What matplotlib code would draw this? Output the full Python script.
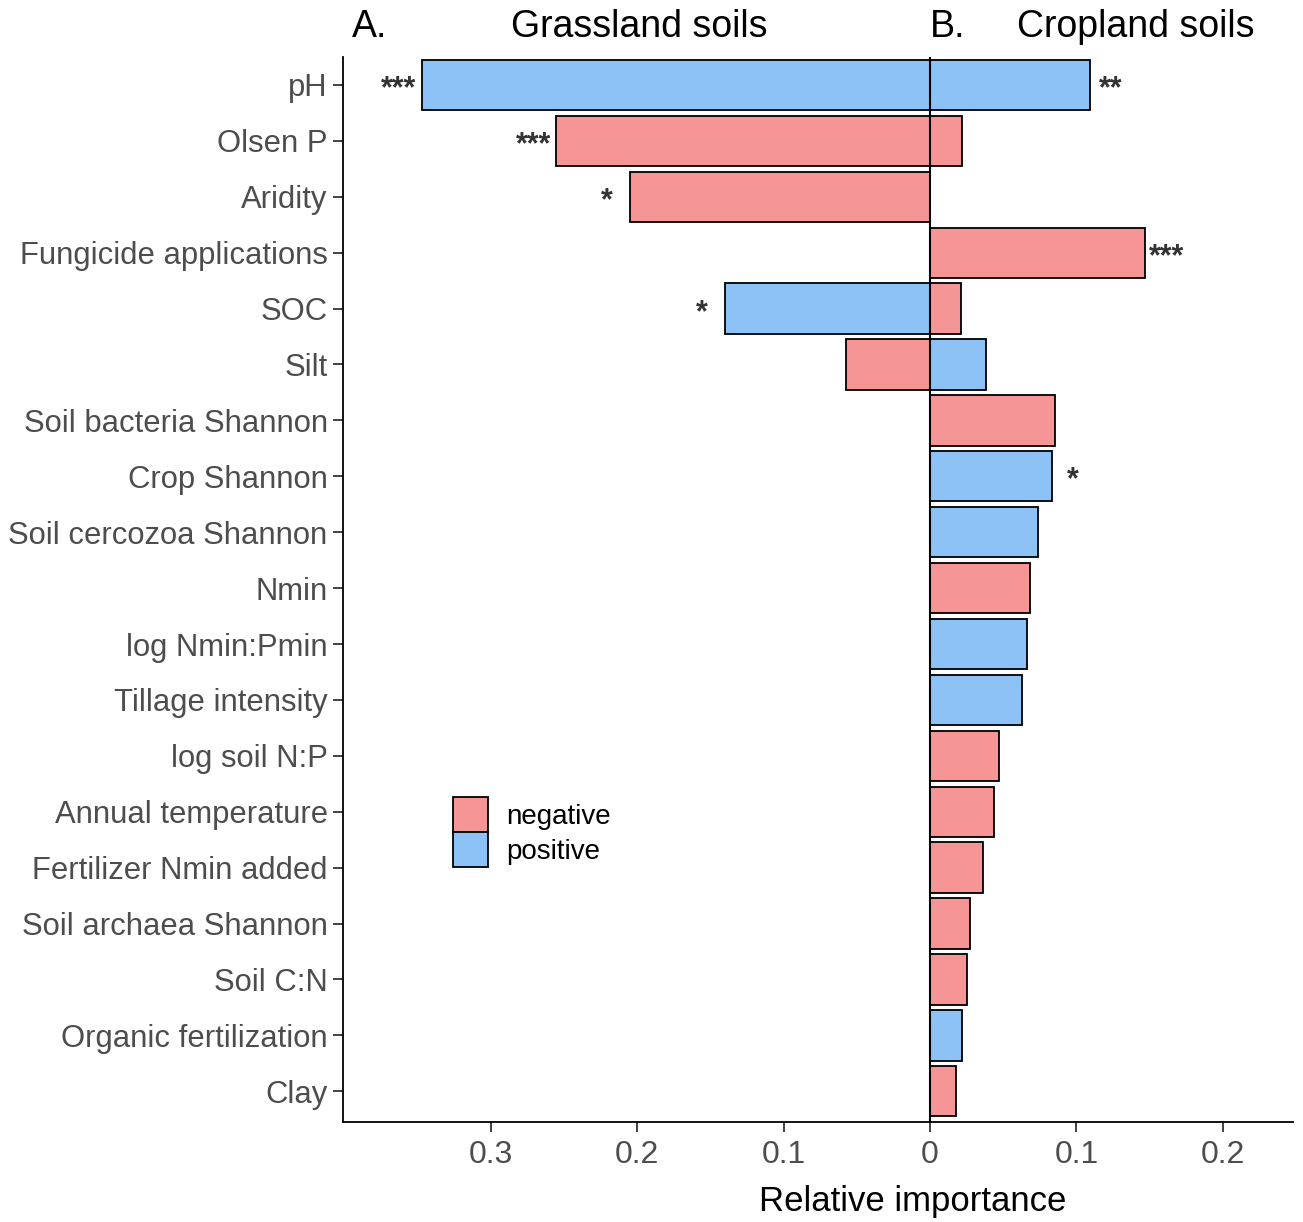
import numpy as np
import matplotlib.pyplot as plt
from matplotlib.patches import Patch

plt.rcParams["font.family"] = ["Liberation Sans", "DejaVu Sans"]

# Predictors, top to bottom
predictors = [
    "pH", "Olsen P", "Aridity", "Fungicide applications", "SOC", "Silt",
    "Soil bacteria Shannon", "Crop Shannon", "Soil cercozoa Shannon", "Nmin",
    "log Nmin:Pmin", "Tillage intensity", "log soil N:P", "Annual temperature",
    "Fertilizer Nmin added", "Soil archaea Shannon", "Soil C:N",
    "Organic fertilization", "Clay",
]

# Relative importance (0 = predictor not in model)
grass_imp = [0.347, 0.255, 0.205, 0, 0.140, 0.057, 0, 0, 0, 0, 0, 0, 0, 0, 0, 0, 0, 0, 0]
crop_imp = [0.109, 0.022, 0, 0.147, 0.021, 0.038, 0.085, 0.083, 0.074, 0.068,
            0.066, 0.063, 0.047, 0.044, 0.036, 0.027, 0.025, 0.022, 0.018]

# Direction of effect
grass_sign = ["positive", "negative", "negative", "", "positive", "negative",
              "", "", "", "", "", "", "", "", "", "", "", "", ""]
crop_sign = ["positive", "negative", "", "negative", "negative", "positive",
             "negative", "positive", "positive", "negative", "positive", "positive",
             "negative", "negative", "negative", "negative", "negative", "positive",
             "negative"]

# Significance labels
grass_sig = ["***", "***", "*", "", "*", "", "", "", "", "", "", "", "", "", "", "", "", "", ""]
crop_sig = ["**", "", "", "***", "", "", "", "*", "", "", "", "", "", "", "", "", "", "", ""]

colors = {"negative": "#F59596", "positive": "#8CC2F5"}

W, H = 1303, 1222
fig = plt.figure(figsize=(W / 100, H / 100), dpi=100)
ax = fig.add_axes([343 / W, 1 - 1122 / H, 950 / W, 1065 / H])

y = np.arange(len(predictors))[::-1]

for yi, g, c, gs, cs, gsig, csig in zip(y, grass_imp, crop_imp, grass_sign,
                                         crop_sign, grass_sig, crop_sig):
    if g > 0:
        ax.barh(yi, -g, height=0.9, color=colors[gs], edgecolor="black", linewidth=1.3)
    if c > 0:
        ax.barh(yi, c, height=0.9, color=colors[cs], edgecolor="black", linewidth=1.3)
    if gsig:
        ax.text(-g - 0.0155, yi - 0.22, gsig, ha="center", va="baseline",
                fontsize=22, fontweight="bold", color="#333333")
    if csig:
        ax.text(c + 0.0145, yi - 0.22, csig, ha="center", va="baseline",
                fontsize=22, fontweight="bold", color="#333333")

ax.axvline(0, color="black", linewidth=1.5)

ax.set_xlim(-0.4007, 0.2478)
ax.set_ylim(-0.55, len(predictors) - 0.5)
ax.set_yticks(y)
ax.set_yticklabels(predictors)
xt = [-0.3, -0.2, -0.1, 0, 0.1, 0.2]
ax.set_xticks(xt)
ax.set_xticklabels(["0.3", "0.2", "0.1", "0", "0.1", "0.2"])
ax.tick_params(axis="both", labelcolor="#4D4D4D", color="#333333",
               length=7, width=1.3)
ax.tick_params(axis="x", pad=6, labelsize=23)
ax.tick_params(axis="y", pad=4, labelsize=22.3)
for lbl in ax.get_yticklabels():
    lbl.set_va("center_baseline")

for side in ["top", "right"]:
    ax.spines[side].set_visible(False)
for side in ["left", "bottom"]:
    ax.spines[side].set_linewidth(1.3)

handles = [Patch(facecolor=colors["negative"], edgecolor="black", linewidth=1.3),
           Patch(facecolor=colors["positive"], edgecolor="black", linewidth=1.3)]
ax.legend(handles, ["negative", "positive"], loc="upper left",
          bbox_to_anchor=((453 - 343) / 950, (1122 - 797) / 1065),
          frameon=False, fontsize=20, handlelength=1.25, handleheight=1.56,
          labelspacing=0.0, handletextpad=0.65, borderpad=0, borderaxespad=0)

# Panel titles
fig.text(352 / W, 1 - 27 / H, "A.", fontsize=27, va="center", ha="left")
fig.text(639 / W, 1 - 27 / H, "Grassland soils", fontsize=27, va="center", ha="center")
fig.text(930 / W, 1 - 27 / H, "B.", fontsize=27, va="center", ha="left")
fig.text(1136 / W, 1 - 27 / H, "Cropland soils", fontsize=27, va="center", ha="center")

fig.text(913 / W, 1 - 1201 / H, "Relative importance", fontsize=25, va="center", ha="center")

fig.savefig("out.png", dpi=100)
